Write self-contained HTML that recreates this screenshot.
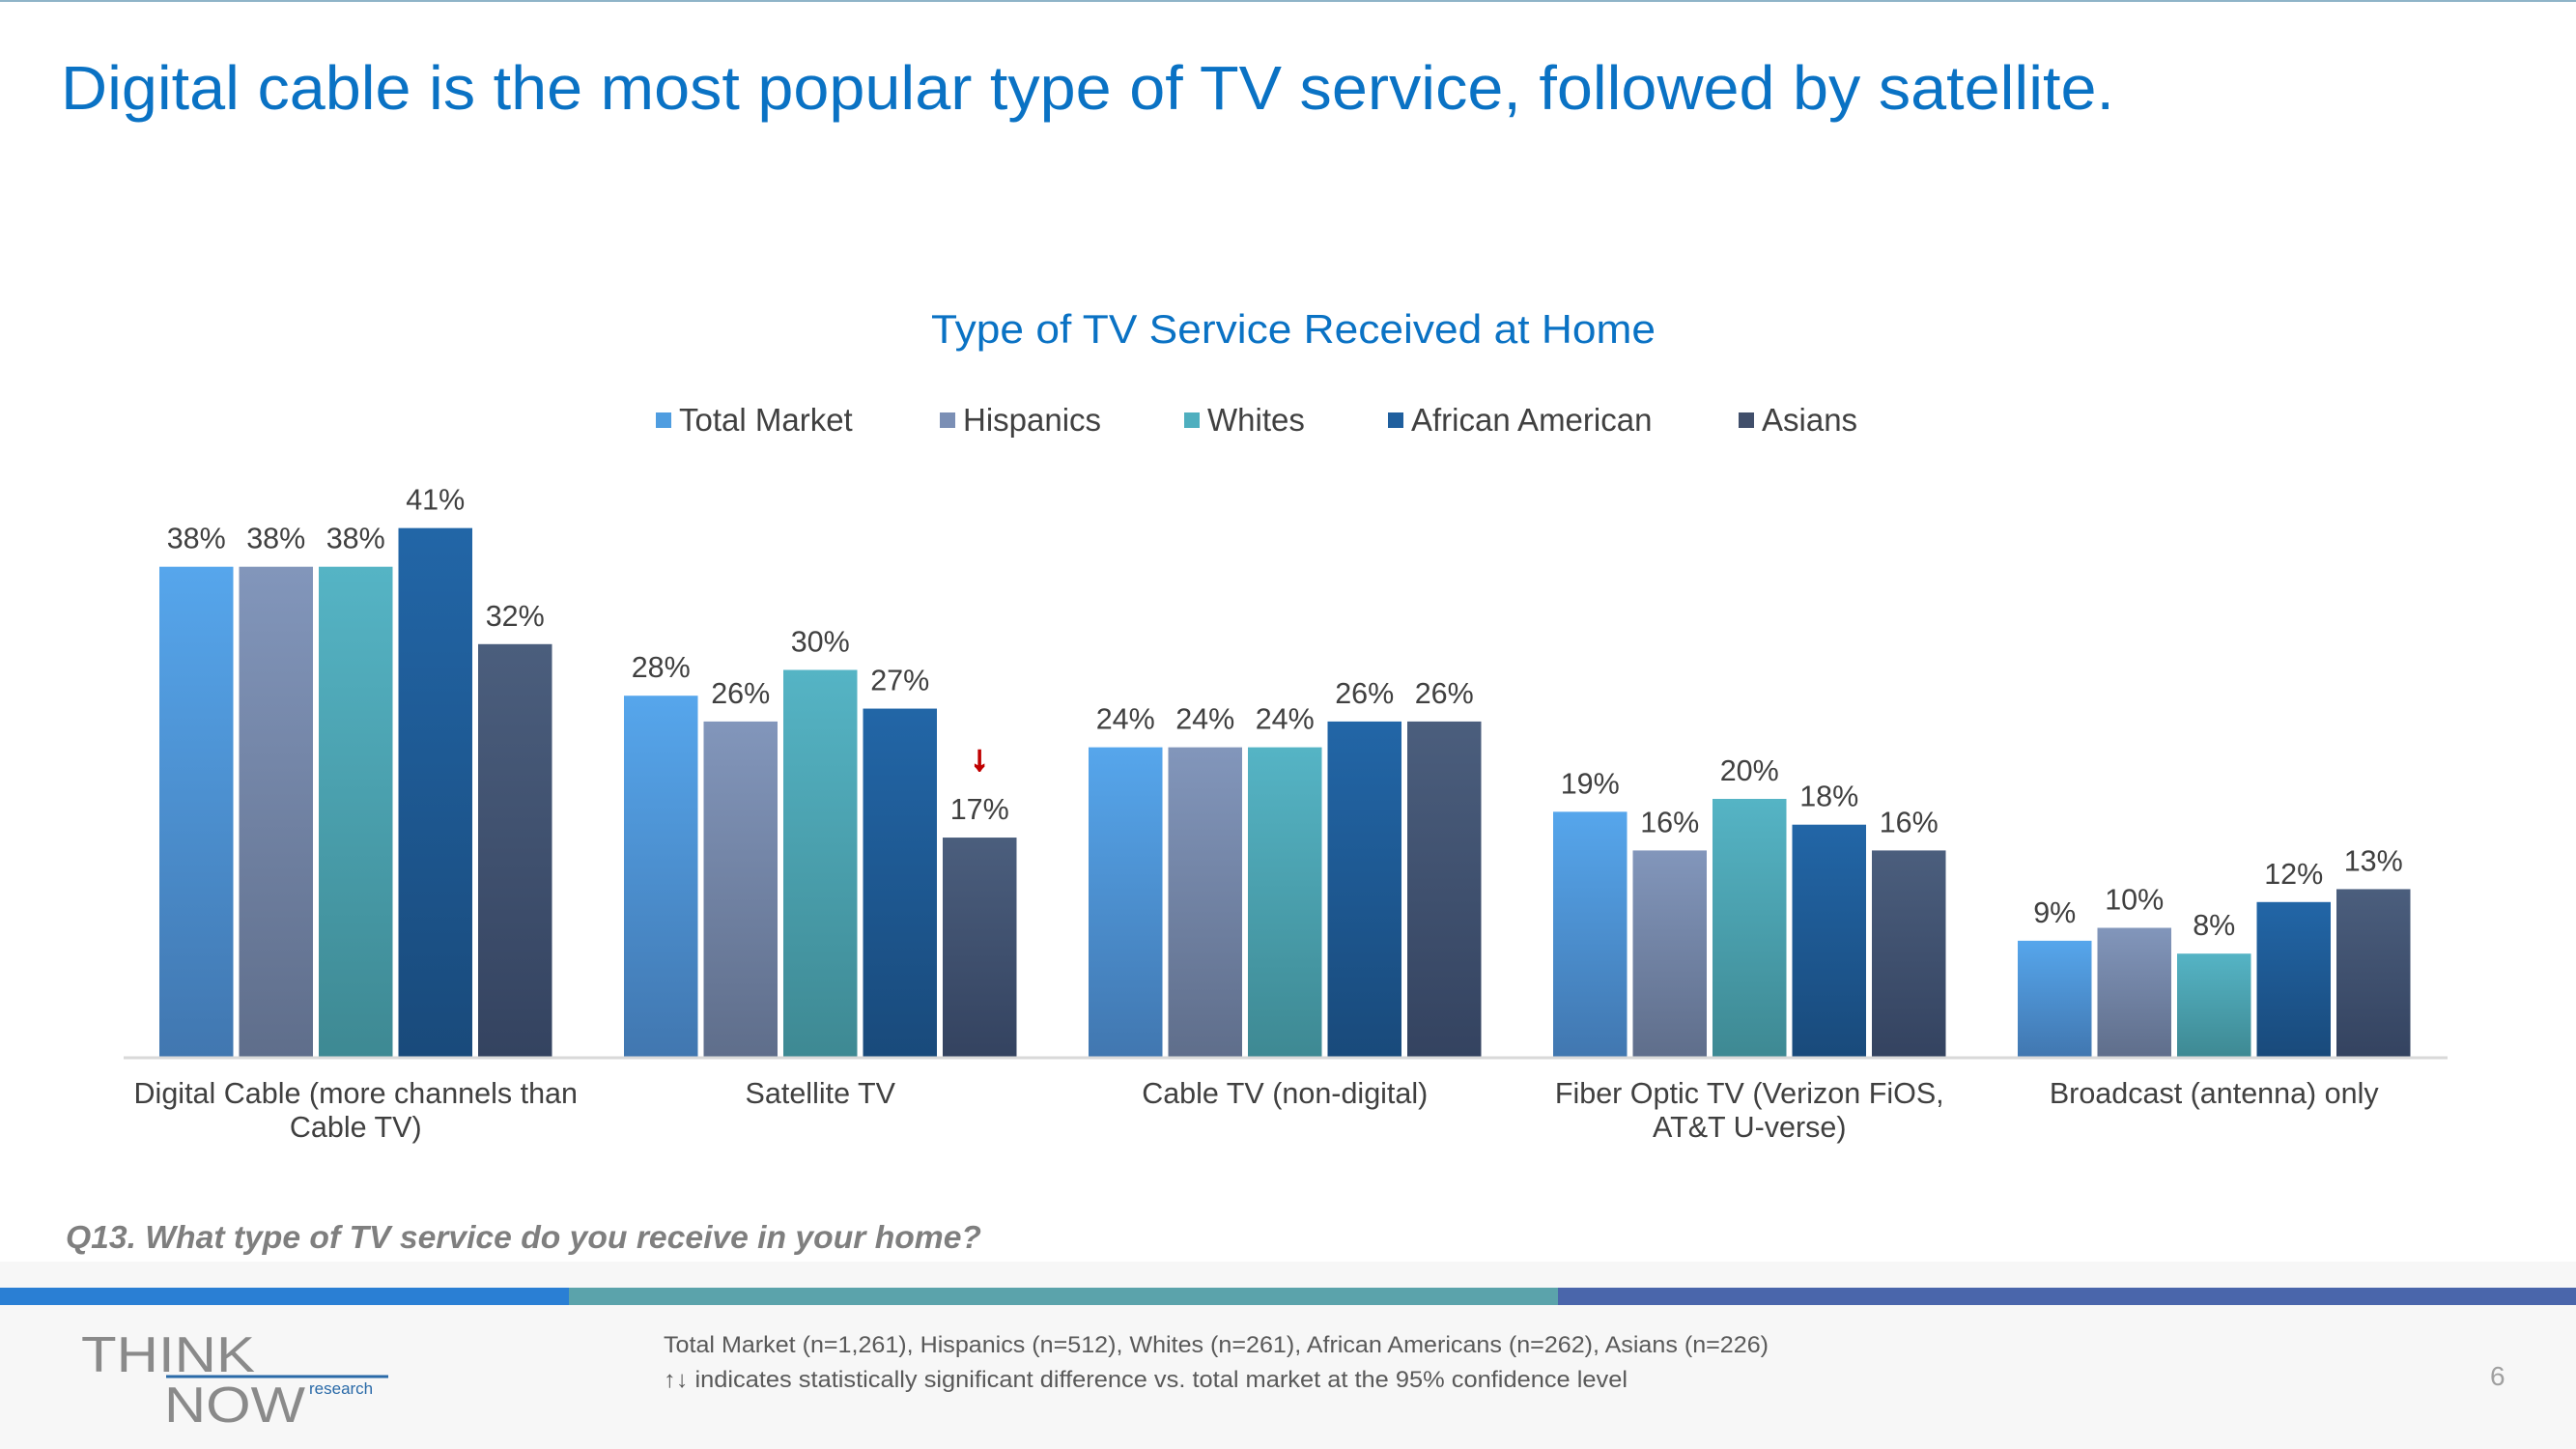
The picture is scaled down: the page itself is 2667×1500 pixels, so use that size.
<!DOCTYPE html>
<html><head><meta charset="utf-8">
<style>
html,body{margin:0;padding:0;background:#fff;}
body{width:2667px;height:1500px;position:relative;overflow:hidden;font-family:"Liberation Sans",Arial,sans-serif;}
svg{position:absolute;left:0;top:0;}
</style></head>
<body>
<svg id="chart" width="2667" height="1500" viewBox="0 0 2667 1500">
<defs>
<linearGradient id="g0" x1="0" y1="0" x2="0" y2="1"><stop offset="0" stop-color="#56a6ec"/><stop offset="1" stop-color="#4177b0"/></linearGradient>
<linearGradient id="g1" x1="0" y1="0" x2="0" y2="1"><stop offset="0" stop-color="#8296bb"/><stop offset="1" stop-color="#5f6e8b"/></linearGradient>
<linearGradient id="g2" x1="0" y1="0" x2="0" y2="1"><stop offset="0" stop-color="#55b4c5"/><stop offset="1" stop-color="#3e8993"/></linearGradient>
<linearGradient id="g3" x1="0" y1="0" x2="0" y2="1"><stop offset="0" stop-color="#2266a7"/><stop offset="1" stop-color="#194a7b"/></linearGradient>
<linearGradient id="g4" x1="0" y1="0" x2="0" y2="1"><stop offset="0" stop-color="#4b5e7d"/><stop offset="1" stop-color="#344360"/></linearGradient>
</defs>
<rect x="0" y="0" width="2667" height="2" fill="#8fb4c8"/>
<text x="63" y="113" font-size="64" fill="#0a72c4" textLength="2126" lengthAdjust="spacingAndGlyphs">Digital cable is the most popular type of TV service, followed by satellite.</text>
<text x="964" y="355" font-size="42" fill="#0a72c4" textLength="750" lengthAdjust="spacingAndGlyphs">Type of TV Service Received at Home</text>
<g id="legend"></g>
<g id="bars"></g>
<line x1="128" y1="1095" x2="2534" y2="1095" stroke="#d9d9d9" stroke-width="3"/>
<g id="cats"></g>
<text x="68" y="1292" font-size="33" font-style="italic" font-weight="bold" fill="#7f7f7f" textLength="948" lengthAdjust="spacingAndGlyphs">Q13. What type of  TV service do you receive in your home?</text>
<rect x="0" y="1306" width="2667" height="194" fill="#f7f7f7"/>
<rect x="0" y="1333" width="589" height="18" fill="#2a7fd4"/>
<rect x="589" y="1333" width="1024" height="18" fill="#5ba3ab"/>
<rect x="1613" y="1333" width="1054" height="18" fill="#4a66ab"/>
<g>
<text x="84" y="1420" font-size="52" fill="#8a8a8a" textLength="180" lengthAdjust="spacingAndGlyphs">THINK</text>
<line x1="172" y1="1425" x2="402" y2="1425" stroke="#2a6aa8" stroke-width="3"/>
<text x="170" y="1472" font-size="52" fill="#8a8a8a" textLength="146" lengthAdjust="spacingAndGlyphs">NOW</text>
<text x="320" y="1443" font-size="17" fill="#2a6aa8">research</text>
</g>
<text x="687" y="1400" font-size="24" fill="#595959" textLength="1144" lengthAdjust="spacingAndGlyphs">Total Market (n=1,261), Hispanics (n=512), Whites (n=261), African Americans (n=262), Asians (n=226)</text>
<text x="687" y="1436" font-size="24" fill="#595959" textLength="998" lengthAdjust="spacingAndGlyphs"><tspan font-weight="bold">↑↓</tspan> indicates statistically significant difference vs. total market at the 95% confidence level</text>
<text x="2578" y="1434" font-size="28" fill="#a0a0a0">6</text>
</svg>
<script>
const categories = [["Digital Cable (more channels than","Cable TV)"],["Satellite TV"],["Cable TV (non-digital)"],["Fiber Optic TV (Verizon FiOS,","AT&T U-verse)"],["Broadcast (antenna) only"]];
const seriesNames = ["Total Market","Hispanics","Whites","African American","Asians"];
const totalMarket = [38,28,24,19,9];
const hispanics = [38,26,24,16,10];
const whites = [38,30,24,20,8];
const africanAmerican = [41,27,26,18,12];
const asians = [32,17,26,16,13];
const sigDown = [[4,1]];
const series = [totalMarket,hispanics,whites,africanAmerican,asians];
const legendColors = ["#4f9de0","#7b8fb5","#4fafbf","#1f5f9e","#414f6b"];
const NS="http://www.w3.org/2000/svg";
const baseY=1094, pxPer=13.35, groupStart=165, groupStep=481, barStep=82.5, barW=76.5;
function yScale(v){return baseY - v*pxPer;}
function xBar(c,s){return groupStart + c*groupStep + s*barStep;}
const bars=document.getElementById('bars');
series.forEach((arr,s)=>{arr.forEach((v,c)=>{
  const r=document.createElementNS(NS,'rect');
  r.setAttribute('x',xBar(c,s));r.setAttribute('y',yScale(v));
  r.setAttribute('width',barW);r.setAttribute('height',baseY-yScale(v));
  r.setAttribute('fill','url(#g'+s+')');
  
  
  bars.appendChild(r);
  const t=document.createElementNS(NS,'text');
  t.setAttribute('x',xBar(c,s)+barW/2);t.setAttribute('y',yScale(v)-19);
  t.setAttribute('font-size','30.5');t.setAttribute('fill','#404040');t.setAttribute('text-anchor','middle');
  t.textContent=v+'%';
  
  
  bars.appendChild(t);
});});
sigDown.forEach(([s,c])=>{
  const v=series[s][c];
  const a=document.createElementNS(NS,'text');
  a.setAttribute('x',xBar(c,s)+barW/2);a.setAttribute('y',yScale(v)-70);
  a.setAttribute('font-size','36');a.setAttribute('font-weight','bold');a.setAttribute('fill','#c00000');a.setAttribute('stroke','#c00000');a.setAttribute('stroke-width','2');a.setAttribute('text-anchor','middle');
  a.textContent='↓';
  
  
  bars.appendChild(a);
});
const cats=document.getElementById('cats');
categories.forEach((lines,c)=>{
  lines.forEach((ln,i)=>{
    const t=document.createElementNS(NS,'text');
    t.setAttribute('x',groupStart+c*groupStep+(4*barStep+barW)/2);
    t.setAttribute('y',1142+i*35);
    t.setAttribute('font-size','30.5');t.setAttribute('fill','#404040');t.setAttribute('text-anchor','middle');
    t.textContent=ln;
    
    
    cats.appendChild(t);
  });
});
const legendX=[679,973,1226,1437,1800];
const leg=document.getElementById('legend');
seriesNames.forEach((n,i)=>{
  const g=document.createElementNS(NS,'g');
  
  
  const r=document.createElementNS(NS,'rect');
  r.setAttribute('x',legendX[i]);r.setAttribute('y',427);r.setAttribute('width',16);r.setAttribute('height',16);r.setAttribute('fill',legendColors[i]);
  g.appendChild(r);
  const t=document.createElementNS(NS,'text');
  t.setAttribute('x',legendX[i]+24);t.setAttribute('y',446);t.setAttribute('font-size','33');t.setAttribute('fill','#404040');
  t.textContent=n;
  g.appendChild(t);
  leg.appendChild(g);
});
</script>
</body></html>
